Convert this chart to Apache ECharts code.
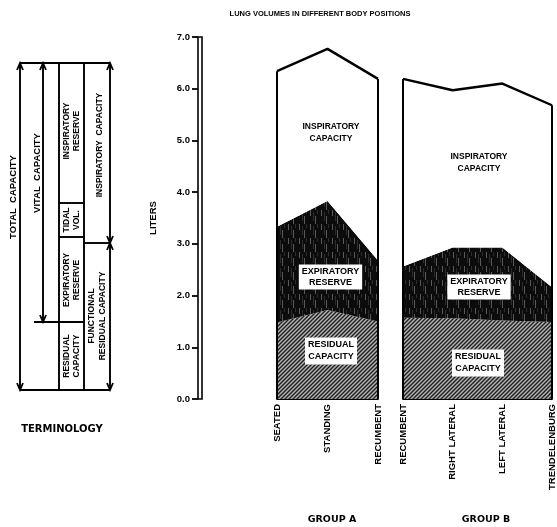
<!DOCTYPE html>
<html>
<head>
<meta charset="utf-8">
<script src="https://cdn.jsdelivr.net/npm/echarts@6/dist/echarts.min.js"></script>
<style>
html,body{margin:0;padding:0;background:#fff;}
#c{width:557px;height:527px;}
</style>
</head>
<body>
<div id="c"></div>
<script>
// ---- data (liters) ----
const categoriesA = ['SEATED', 'STANDING', 'RECUMBENT'];
const residualA = [1.48, 1.72, 1.50];
const expiratoryA = [1.85, 2.11, 1.18];
const inspiratoryA = [3.01, 2.94, 3.51];

const categoriesB = ['RECUMBENT', 'RIGHT LATERAL', 'LEFT LATERAL', 'TRENDELENBURG'];
const residualB = [1.57, 1.56, 1.52, 1.49];
const expiratoryB = [0.99, 1.37, 1.41, 0.67];
const inspiratoryB = [3.63, 3.04, 3.17, 3.52];

const yMin = 0, yMax = 7, yStep = 1;
const groupLabels = ['GROUP A', 'GROUP B'];

// ---- textures ----
function hatchPattern() {
  const c = document.createElement('canvas');
  c.width = 4; c.height = 4;
  const g = c.getContext('2d');
  g.fillStyle = '#b4b4b4'; g.fillRect(0, 0, 4, 4);
  g.strokeStyle = '#1e1e1e'; g.lineWidth = 1.4;
  g.beginPath();
  g.moveTo(0, 4); g.lineTo(4, 0);
  g.moveTo(-1, 1); g.lineTo(1, -1);
  g.moveTo(3, 5); g.lineTo(5, 3);
  g.stroke();
  return c;
}
function darkPattern() {
  const c = document.createElement('canvas');
  c.width = 11; c.height = 14;
  const g = c.getContext('2d');
  g.fillStyle = '#0c0c0c'; g.fillRect(0, 0, 11, 14);
  g.fillStyle = '#5a5a5a';
  g.fillRect(2, 0, 1, 6);
  g.fillRect(7, 6, 1, 8);
  g.fillStyle = '#2c2c2c';
  g.fillRect(5, 2, 1, 9);
  g.fillRect(9, 0, 1, 4);
  return c;
}
const hatch = { image: hatchPattern(), repeat: 'repeat' };
const dark = { image: darkPattern(), repeat: 'repeat' };

const sum = (a, b, c) => a.map((v, i) => +(v + b[i] + c[i]).toFixed(2));
const totalA = sum(residualA, expiratoryA, inspiratoryA);
const totalB = sum(residualB, expiratoryB, inspiratoryB);

const FONT = 'Liberation Sans';
const HEAVY = 'DejaVu Sans';

function stackSeries(idx, res, exp, insp, tot, n) {
  const base = { type: 'line', xAxisIndex: idx, yAxisIndex: idx, stack: 's' + idx, symbol: 'none', silent: true, lineStyle: { width: 0 } };
  return [
    Object.assign({}, base, { name: 'Residual', data: res, areaStyle: { color: hatch, opacity: 1 } }),
    Object.assign({}, base, { name: 'Expiratory', data: exp, areaStyle: { color: dark, opacity: 1 } }),
    Object.assign({}, base, { name: 'Inspiratory', data: insp, areaStyle: { color: '#ffffff', opacity: 1 } }),
    {
      type: 'line', xAxisIndex: idx, yAxisIndex: idx, symbol: 'none', silent: true, z: 5,
      data: tot, lineStyle: { color: '#000', width: 2.4 },
      markLine: {
        symbol: 'none', silent: true, label: { show: false },
        lineStyle: { color: '#000', width: 2, type: 'solid' },
        data: [
          [{ coord: [0, 0] }, { coord: [0, tot[0]] }],
          [{ coord: [n - 1, 0] }, { coord: [n - 1, tot[n - 1]] }]
        ]
      }
    }
  ];
}

function rotText(x, y, text, size, lh) {
  return {
    type: 'text', x: x, y: y, rotation: Math.PI / 2, silent: true,
    style: { text: text, fontFamily: FONT, fontWeight: 'bold', fontSize: size, lineHeight: lh || size + 2, fill: '#000', align: 'center', verticalAlign: 'middle' }
  };
}
function txt(x, y, text, size, lh, box, fam) {
  const s = { text: text, fontFamily: fam || FONT, fontWeight: 'bold', fontSize: size, lineHeight: lh || size + 2, fill: '#000', align: 'center', verticalAlign: 'middle' };
  if (box) { s.backgroundColor = '#fff'; s.padding = [2, 3, 1, 3]; }
  return { type: 'text', x: x, y: y, silent: true, z: 100, style: s };
}
function ln(x1, y1, x2, y2, w) {
  return { type: 'line', silent: true, shape: { x1: x1, y1: y1, x2: x2, y2: y2 }, style: { stroke: '#000', lineWidth: w || 1.9 } };
}
function arrowUp(x, y) {
  return { type: 'polyline', silent: true, shape: { points: [[x - 3, y + 7], [x, y], [x + 3, y + 7]] }, style: { stroke: '#000', lineWidth: 1.8, fill: null } };
}
function arrowDown(x, y) {
  return { type: 'polyline', silent: true, shape: { points: [[x - 3, y - 7], [x, y], [x + 3, y - 7]] }, style: { stroke: '#000', lineWidth: 1.8, fill: null } };
}

const diagram = [
  ln(20, 63, 110, 63), ln(20, 390, 110, 390),
  ln(20, 63, 20, 390), arrowUp(20, 63), arrowDown(20, 390),
  ln(43, 63, 43, 322), arrowUp(43, 63), arrowDown(43, 322),
  ln(34, 322, 84, 322),
  ln(59, 63, 59, 390), ln(84, 63, 84, 390),
  ln(110, 63, 110, 390), arrowUp(110, 63), arrowDown(110, 243), arrowUp(110, 243), arrowDown(110, 390),
  ln(59, 203, 84, 203), ln(59, 237, 84, 237),
  ln(84, 243, 110, 243),
  rotText(13, 197, 'TOTAL  CAPACITY', 9.5),
  rotText(37, 173, 'VITAL  CAPACITY', 9.5),
  rotText(71.5, 131, 'INSPIRATORY\nRESERVE', 8.5, 10),
  rotText(71.5, 220, 'TIDAL\nVOL.', 8.5, 10),
  rotText(71.5, 280, 'EXPIRATORY\nRESERVE', 8.5, 10),
  rotText(71.5, 356, 'RESIDUAL\nCAPACITY', 8.5, 10),
  rotText(100, 145, 'INSPIRATORY  CAPACITY', 8.5),
  rotText(97, 316, 'FUNCTIONAL\nRESIDUAL CAPACITY', 8.5, 11),
  txt(62, 429, 'TERMINOLOGY', 10, 12, false, HEAVY)
];

const panelTexts = [
  txt(320, 14, 'LUNG VOLUMES IN DIFFERENT BODY POSITIONS', 7.5),
  txt(331, 133, 'INSPIRATORY\nCAPACITY', 8.5, 12),
  txt(330.5, 277, 'EXPIRATORY\nRESERVE', 9, 11, true),
  txt(331, 351, 'RESIDUAL\nCAPACITY', 9, 12, true),
  txt(479, 163, 'INSPIRATORY\nCAPACITY', 8.5, 12),
  txt(479, 287, 'EXPIRATORY\nRESERVE', 9, 11, true),
  txt(478, 363, 'RESIDUAL\nCAPACITY', 9, 12, true),
  txt(332, 520, groupLabels[0], 9.5, 12, false, HEAVY),
  txt(486, 520, groupLabels[1], 9.5, 12, false, HEAVY)
];

const catAxis = (idx, cats) => ({
  type: 'category', gridIndex: idx, data: cats, boundaryGap: false,
  axisLine: { show: true, lineStyle: { color: '#000', width: 1.8 } },
  axisTick: { show: false }, splitLine: { show: false },
  axisLabel: { rotate: 90, margin: 5, fontFamily: FONT, fontWeight: 'bold', fontSize: 9.5, color: '#000', interval: 0 }
});
const hiddenY = idx => ({ type: 'value', gridIndex: idx, min: yMin, max: yMax, interval: yStep, show: false, splitLine: { show: false } });

const chart = echarts.init(document.getElementById('c'), null, { renderer: 'canvas' });
chart.setOption({
  animation: false,
  backgroundColor: '#fff',
  grid: [
    { left: 198, top: 37, width: 4, height: 362, show: true, borderColor: '#000', borderWidth: 1.6, backgroundColor: 'transparent' },
    { left: 277, top: 37, width: 101, height: 362 },
    { left: 403, top: 37, width: 154, height: 362 }
  ],
  xAxis: [
    { type: 'value', gridIndex: 0, show: false },
    catAxis(1, categoriesA),
    catAxis(2, categoriesB)
  ],
  yAxis: [
    {
      type: 'value', gridIndex: 0, min: yMin, max: yMax, interval: yStep,
      axisLine: { show: false },
      axisTick: { show: true, inside: false, length: 6, lineStyle: { color: '#000', width: 1.8 } },
      splitLine: { show: false },
      axisLabel: { margin: 8, fontFamily: FONT, fontWeight: 'bold', fontSize: 9.5, color: '#000', formatter: v => v.toFixed(1) },
      name: 'LITERS', nameLocation: 'middle', nameRotate: 90, nameGap: 40,
      nameTextStyle: { fontFamily: FONT, fontWeight: 'bold', fontSize: 9.5, color: '#000' }
    },
    hiddenY(1),
    hiddenY(2)
  ],
  series: [].concat(
    stackSeries(1, residualA, expiratoryA, inspiratoryA, totalA, categoriesA.length),
    stackSeries(2, residualB, expiratoryB, inspiratoryB, totalB, categoriesB.length)
  ),
  graphic: diagram.concat(panelTexts)
});
</script>
</body>
</html>
